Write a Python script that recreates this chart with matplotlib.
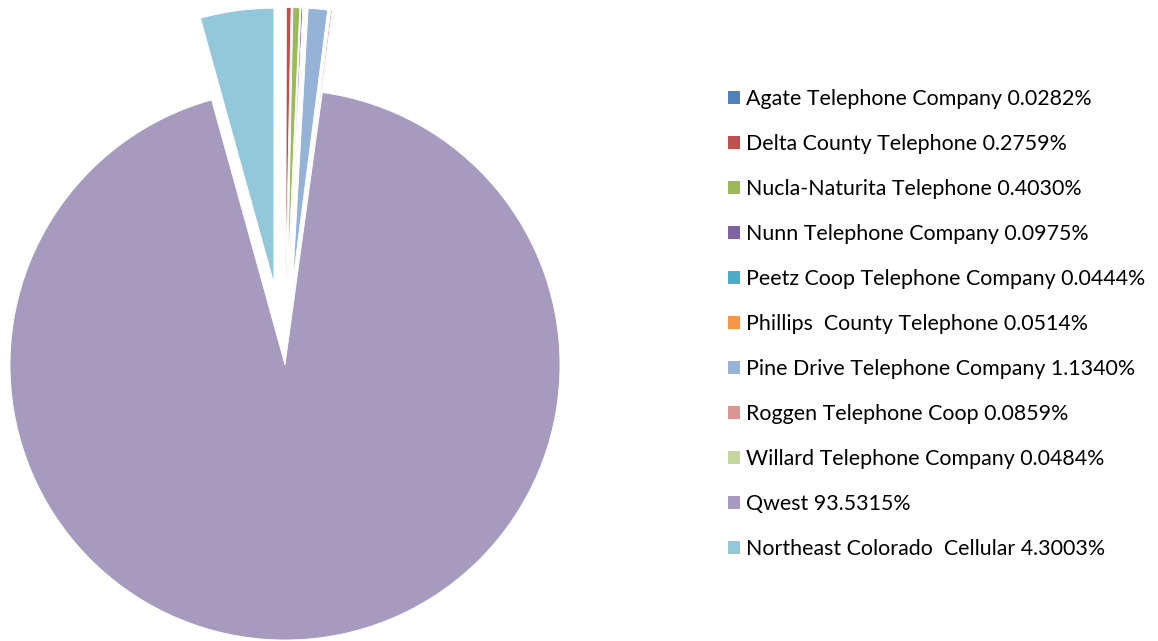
import matplotlib.pyplot as plt
from matplotlib.patches import Patch

companies = ['Agate Telephone Company', 'Delta County Telephone', 'Nucla-Naturita Telephone',
             'Nunn Telephone Company', 'Peetz Coop Telephone Company', 'Phillips  County Telephone',
             'Pine Drive Telephone Company', 'Roggen Telephone Coop', 'Willard Telephone Company',
             'Qwest', 'Northeast Colorado  Cellular']
shares = [0.0282, 0.2759, 0.4030, 0.0975, 0.0444, 0.0514, 1.1340, 0.0859, 0.0484, 93.5315, 4.3003]
share_labels = ['0.0282%', '0.2759%', '0.4030%', '0.0975%', '0.0444%', '0.0514%',
                '1.1340%', '0.0859%', '0.0484%', '93.5315%', '4.3003%']
colors = ['#4F81BD', '#C0504D', '#9BBB59', '#8064A2', '#4BACC6', '#F79646',
          '#95B3D7', '#D99694', '#C3D69B', '#A69ABF', '#92C8D9']

plt.rcParams['font.family'] = ['Lato', 'DejaVu Sans']

fig = plt.figure(figsize=(11.58, 6.41), dpi=100)
ax = fig.add_axes([0, 0, 580 / 1158, 1])

# everything except Qwest is pulled out of the pie
explode = [0.3] * len(shares)
explode[9] = 0.0
ax.pie(shares, colors=colors, startangle=90, counterclock=False, explode=explode,
       wedgeprops={'linewidth': 0.6, 'edgecolor': 'white'})
ax.set_xlim(-285 / 275, 295 / 275)
ax.set_ylim(-276 / 275, 365 / 275)
ax.axis('off')

handles = [Patch(facecolor=c, edgecolor='none') for c in colors]
labels = ['{} {}'.format(n, s) for n, s in zip(companies, share_labels)]
fig.legend(handles, labels, loc='upper left', bbox_to_anchor=(728 / 1158, 1 - 89 / 641),
           frameon=False, fontsize=15.4, handlelength=0.55, handleheight=0.55,
           handletextpad=0.3, labelspacing=1.17, borderaxespad=0, borderpad=0)

fig.savefig('out.png', dpi=100)
